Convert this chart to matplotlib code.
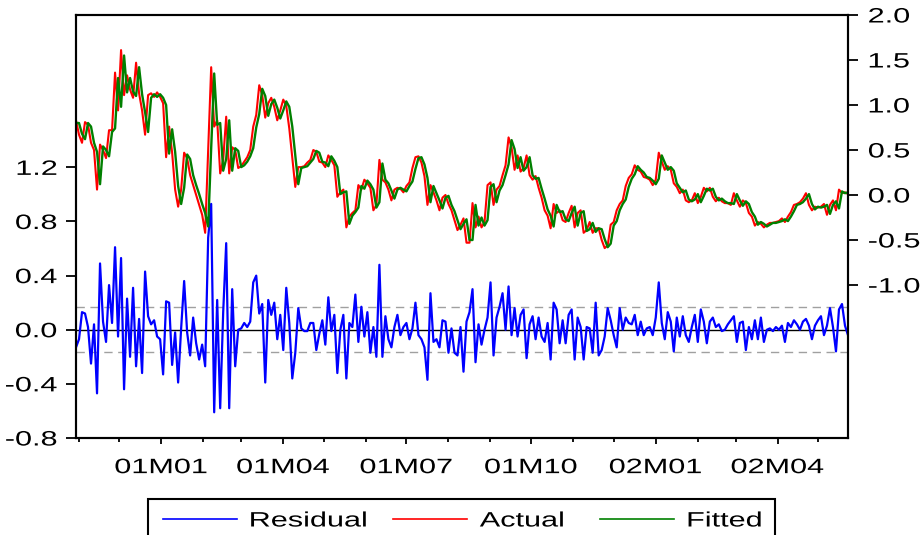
import pandas as pd
import matplotlib
matplotlib.use('Agg')
import matplotlib.pyplot as plt
import matplotlib.dates as mdates
from matplotlib.patches import Rectangle
from matplotlib.patheffects import AbstractPathEffect
from matplotlib.transforms import Affine2D

plt.rcParams['font.family'] = ['Liberation Sans', 'DejaVu Sans']

# Actual / fitted (right axis) and residual (left axis), 2000M10 - 2002M05
actual = [
    0.83, 0.67, 0.58, 0.81, 0.78, 0.58, 0.50, 0.06, 0.56, 0.50,
    0.41, 0.72, 0.72, 1.36, 0.94, 1.61, 1.11, 1.33, 1.17, 1.08,
    1.47, 1.13, 0.94, 0.67, 1.11, 1.13, 1.09, 1.14, 1.09, 1.02,
    0.42, 0.76, 0.47, 0.06, -0.13, 0.06, 0.47, 0.41, 0.22, 0.11,
    0.00, -0.11, -0.22, -0.42, 0.50, 1.42, 0.76, 0.83, 0.24, 0.39,
    0.87, 0.24, 0.53, 0.50, 0.30, 0.32, 0.37, 0.42, 0.50, 0.76,
    0.89, 1.22, 1.11, 0.86, 1.02, 1.08, 0.98, 0.83, 0.94, 1.06,
    0.99, 0.74, 0.42, 0.09, 0.31, 0.31, 0.32, 0.36, 0.39, 0.50,
    0.48, 0.37, 0.36, 0.31, 0.44, 0.39, 0.33, -0.02, 0.03, 0.06,
    -0.36, -0.24, -0.20, -0.17, 0.11, 0.06, 0.17, 0.13, 0.08, -0.17,
    -0.11, 0.39, 0.17, 0.14, 0.06, -0.06, 0.06, 0.08, 0.07, 0.03,
    0.10, 0.14, 0.30, 0.42, 0.43, 0.36, 0.21, -0.11, 0.11, 0.03,
    -0.06, -0.17, -0.03, 0.00, -0.10, -0.17, -0.28, -0.39, -0.33, -0.26,
    -0.53, -0.53, -0.09, -0.36, -0.24, -0.36, -0.30, 0.11, 0.14, -0.11,
    0.06, 0.10, 0.22, 0.33, 0.64, 0.53, 0.28, 0.44, 0.26, 0.30,
    0.44, 0.22, 0.17, 0.21, 0.08, -0.03, -0.17, -0.23, -0.37, -0.10,
    -0.20, -0.17, -0.28, -0.30, -0.20, -0.12, -0.36, -0.20, -0.17, -0.42,
    -0.39, -0.30, -0.42, -0.37, -0.37, -0.50, -0.59, -0.56, -0.33, -0.30,
    -0.17, -0.10, -0.06, 0.10, 0.19, 0.23, 0.33, 0.28, 0.26, 0.20,
    0.19, 0.17, 0.11, 0.17, 0.47, 0.37, 0.28, 0.32, 0.28, 0.13,
    0.09, 0.02, 0.06, -0.06, -0.08, -0.06, 0.02, -0.09, -0.02, 0.08,
    0.04, 0.08, -0.02, -0.07, -0.03, -0.07, -0.09, -0.09, -0.11, 0.02,
    -0.06, -0.13, -0.06, -0.09, -0.20, -0.24, -0.34, -0.30, -0.32, -0.36,
    -0.33, -0.31, -0.31, -0.30, -0.29, -0.26, -0.30, -0.24, -0.19, -0.11,
    -0.10, -0.08, -0.04, 0.02, -0.11, -0.17, -0.13, -0.14, -0.13, -0.10,
    -0.22, -0.11, -0.06, -0.17, 0.06, 0.02, 0.03, 0.01,
]

fitted = [
    0.80, 0.80, 0.68, 0.62, 0.80, 0.76, 0.58, 0.48, 0.12, 0.54,
    0.50, 0.43, 0.70, 0.74, 1.30, 0.98, 1.55, 1.14, 1.30, 1.15,
    1.10, 1.42, 1.12, 0.92, 0.70, 1.08, 1.12, 1.09, 1.12, 1.08,
    1.00, 0.46, 0.73, 0.48, 0.10, -0.10, 0.08, 0.45, 0.40, 0.22,
    0.11, 0.01, -0.10, -0.20, -0.35, 0.52, 1.35, 0.78, 0.80, 0.27,
    0.40, 0.83, 0.27, 0.52, 0.49, 0.31, 0.33, 0.37, 0.43, 0.52,
    0.75, 0.90, 1.18, 1.10, 0.88, 1.01, 1.06, 0.97, 0.85, 0.94,
    1.04, 0.98, 0.76, 0.44, 0.12, 0.30, 0.31, 0.32, 0.36, 0.40,
    0.49, 0.47, 0.37, 0.36, 0.32, 0.43, 0.38, 0.31, 0.01, 0.03,
    0.04, -0.32, -0.23, -0.19, -0.14, 0.10, 0.07, 0.16, 0.12, 0.06,
    -0.14, -0.08, 0.35, 0.17, 0.13, 0.05, -0.04, 0.06, 0.08, 0.06,
    0.04, 0.10, 0.15, 0.29, 0.41, 0.42, 0.34, 0.19, -0.08, 0.10,
    0.02, -0.06, -0.15, -0.03, -0.01, -0.11, -0.18, -0.28, -0.38, -0.32,
    -0.27, -0.50, -0.50, -0.11, -0.34, -0.25, -0.34, -0.28, 0.09, 0.12,
    -0.08, 0.05, 0.11, 0.22, 0.34, 0.61, 0.51, 0.30, 0.42, 0.27,
    0.31, 0.42, 0.22, 0.18, 0.19, 0.07, -0.04, -0.16, -0.23, -0.35,
    -0.11, -0.19, -0.18, -0.27, -0.29, -0.20, -0.13, -0.34, -0.20, -0.18,
    -0.40, -0.38, -0.31, -0.41, -0.37, -0.38, -0.49, -0.58, -0.54, -0.34,
    -0.29, -0.17, -0.10, -0.05, 0.09, 0.18, 0.23, 0.32, 0.28, 0.25,
    0.20, 0.19, 0.16, 0.12, 0.18, 0.44, 0.36, 0.28, 0.31, 0.27,
    0.13, 0.08, 0.03, 0.05, -0.05, -0.07, -0.05, 0.01, -0.08, -0.01,
    0.07, 0.05, 0.07, -0.02, -0.06, -0.04, -0.07, -0.09, -0.09, -0.10,
    0.01, -0.06, -0.12, -0.07, -0.10, -0.19, -0.24, -0.33, -0.30, -0.32,
    -0.35, -0.33, -0.31, -0.31, -0.30, -0.29, -0.27, -0.29, -0.24, -0.18,
    -0.11, -0.10, -0.08, -0.04, 0.01, -0.10, -0.16, -0.13, -0.14, -0.13,
    -0.11, -0.21, -0.11, -0.07, -0.15, 0.04, 0.02, 0.03,
]

residual = [
    -0.13, -0.07, 0.13, 0.12, 0.02, -0.25, 0.04, -0.47, 0.49, 0.06,
    -0.09, 0.33, 0.05, 0.61, -0.05, 0.53, -0.44, 0.23, -0.20, 0.31,
    -0.27, 0.08, -0.32, 0.43, 0.10, 0.04, 0.07, -0.05, -0.07, -0.33,
    0.21, 0.20, -0.26, -0.02, -0.39, 0.01, 0.36, -0.02, -0.19, 0.09,
    -0.10, -0.22, -0.11, -0.27, 0.68, 0.93, -0.61, 0.22, -0.58, 0.13,
    0.64, -0.58, 0.30, -0.27, 0.00, 0.01, 0.05, 0.02, 0.06, 0.35,
    0.40, 0.12, 0.19, -0.39, 0.22, 0.11, 0.20, -0.07, 0.11, -0.15,
    0.31, 0.05, -0.36, -0.17, 0.16, 0.01, -0.01, -0.01, 0.05, 0.05,
    -0.15, -0.03, 0.07, -0.11, 0.24, -0.01, 0.11, -0.32, 0.00, 0.11,
    -0.36, 0.05, 0.02, 0.26, -0.09, 0.17, -0.05, 0.13, -0.17, 0.02,
    -0.20, 0.48, -0.20, 0.10, -0.07, -0.13, 0.02, 0.11, -0.04, 0.02,
    0.05, -0.07, 0.01, 0.20, -0.04, -0.07, -0.13, -0.37, 0.27, -0.09,
    -0.07, -0.13, 0.07, 0.06, -0.17, 0.01, -0.17, -0.19, 0.02, -0.31,
    0.06, 0.13, 0.30, -0.24, 0.04, -0.11, 0.00, 0.09, 0.35, -0.19,
    0.09, 0.17, 0.27, 0.00, 0.32, -0.04, 0.16, -0.05, 0.11, 0.15,
    -0.21, 0.04, 0.10, -0.07, 0.09, -0.05, -0.09, 0.05, -0.22, 0.20,
    0.15, -0.10, 0.07, -0.10, 0.11, 0.15, -0.22, 0.09, 0.02, -0.22,
    0.02, 0.01, -0.17, 0.20, -0.19, -0.15, -0.05, 0.16, 0.07, -0.04,
    -0.13, 0.16, 0.00, 0.09, 0.05, 0.04, 0.11, -0.04, 0.06, -0.04,
    0.01, 0.02, -0.04, 0.09, 0.35, 0.05, -0.07, 0.13, 0.06, -0.16,
    0.09, -0.05, 0.10, -0.04, -0.09, 0.02, 0.11, -0.09, 0.15, 0.06,
    -0.10, 0.06, 0.09, 0.02, 0.04, -0.01, 0.00, 0.04, 0.07, 0.10,
    -0.09, 0.05, 0.06, -0.15, 0.02, -0.07, 0.07, -0.07, 0.09, -0.09,
    0.00, 0.01, -0.01, 0.02, 0.00, 0.03, -0.09, 0.05, 0.02, 0.07,
    0.04, 0.00, 0.06, 0.08, 0.03, -0.07, 0.03, 0.07, 0.10, -0.04,
    0.03, 0.16, 0.02, -0.16, 0.15, 0.19, 0.03, -0.04,
]

se_band = 0.165  # +/- one standard error of the regression

dates = pd.date_range('2000-10-30', '2002-05-23', periods=len(actual))


class Stretch(AbstractPathEffect):
    """Widen glyphs horizontally, keeping one edge of the text in place."""

    def __init__(self, sx, anchor='left'):
        super().__init__()
        self.sx = sx
        self.anchor = anchor

    def draw_path(self, renderer, gc, tpath, affine, rgbFace=None):
        ext = tpath.get_extents()
        if self.anchor == 'right':
            x0 = ext.x1
        elif self.anchor == 'center':
            x0 = (ext.x0 + ext.x1) / 2
        else:
            x0 = ext.x0
        t = Affine2D().translate(-x0, 0).scale(self.sx, 1).translate(x0, 0) + affine
        renderer.draw_path(gc, tpath, t, rgbFace)


SX = 1.47
fs = 15

fig = plt.figure(figsize=(9.21, 5.35), dpi=100)
ax = fig.add_axes([76 / 921, 97 / 535, 772 / 921, 423 / 535])
ax2 = ax.twinx()

# residual panel on the left scale
ax.axhline(0, color='black', lw=1.0, zorder=1)
for v in (se_band, -se_band):
    ax.axhline(v, color='#a0a0a0', lw=1.0, ls=(0, (6, 4)), zorder=1)
res_line, = ax.plot(dates, residual, color='#0000ff', lw=1.6, zorder=2)
ax.set_ylim(-0.8, 2.326)
ax.set_yticks([-0.8, -0.4, 0.0, 0.4, 0.8, 1.2])
ax.set_yticklabels(['-0.8', '-0.4', '0.0', '0.4', '0.8', '1.2'])

# actual and fitted on the right scale
act_line, = ax2.plot(dates, actual, color='#ff0000', lw=1.5)
fit_line, = ax2.plot(dates, fitted, color='#008000', lw=1.7)
ax2.set_ylim(-2.70, 2.0)
ax2.set_yticks([-1.0, -0.5, 0.0, 0.5, 1.0, 1.5, 2.0])
ax2.set_yticklabels(['-1.0', '-0.5', '0.0', '0.5', '1.0', '1.5', '2.0'])

ax.set_xlim(dates[0], dates[-1])
ax.xaxis.set_major_locator(mdates.MonthLocator(bymonth=[1, 4, 7, 10]))
ax.xaxis.set_minor_locator(mdates.MonthLocator())
ax.xaxis.set_major_formatter(mdates.DateFormatter('%yM%m'))

for a in (ax, ax2):
    for s in a.spines.values():
        s.set_linewidth(1.5)
        s.set_color('black')
ax.tick_params(axis='y', which='major', length=7, width=1.3, pad=6.5, labelsize=fs, direction='out')
ax2.tick_params(axis='y', which='major', length=7.5, width=1.3, pad=7, labelsize=fs, direction='out')
ax.tick_params(axis='x', which='major', length=4.5, width=1.3, pad=10, labelsize=fs, direction='out')
ax.tick_params(axis='x', which='minor', length=3, width=1.3, direction='out')

for lab in ax.get_yticklabels():
    lab.set_path_effects([Stretch(SX, 'right')])
for lab in ax2.get_yticklabels():
    lab.set_path_effects([Stretch(SX, 'left')])
for lab in ax.get_xticklabels():
    lab.set_path_effects([Stretch(SX, 'center')])

# legend row, boxed below the plot (box runs off the bottom edge)
leg = fig.legend([res_line, act_line, fit_line], ['Residual', 'Actual', 'Fitted'],
                 loc='center left', bbox_to_anchor=(163 / 921, 1 - 521 / 535), ncol=3,
                 fontsize=fs, frameon=False, handlelength=3.55, handletextpad=0.6,
                 columnspacing=3.0, borderpad=0, borderaxespad=0)
for h in leg.get_lines():
    h.set_linewidth(1.2)
for t in leg.get_texts():
    t.set_path_effects([Stretch(SX, 'left')])
fig.patches.append(Rectangle((148 / 921, -10 / 535), 627 / 921, 46 / 535,
                             transform=fig.transFigure, fill=False,
                             edgecolor='black', lw=1.5, clip_on=False))

fig.savefig('out.png', dpi=100)
